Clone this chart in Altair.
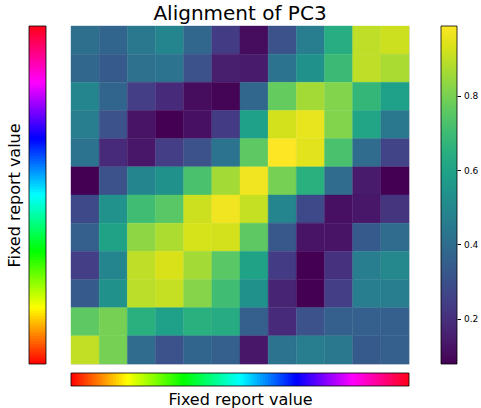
import altair as alt
import pandas as pd
import numpy as np

title_text = "Alignment of PC3"
bar_title = "Fixed report value"

# 12 x 12 alignment values, row 0 = top row
rows = [
    [0.406, 0.369, 0.442, 0.488, 0.378, 0.233, 0.105, 0.306, 0.460, 0.642, 0.897, 0.915],
    [0.378, 0.333, 0.415, 0.424, 0.306, 0.151, 0.142, 0.424, 0.533, 0.697, 0.897, 0.870],
    [0.488, 0.369, 0.242, 0.187, 0.105, 0.087, 0.378, 0.770, 0.861, 0.815, 0.679, 0.588],
    [0.460, 0.306, 0.124, 0.078, 0.114, 0.233, 0.588, 0.924, 0.956, 0.815, 0.606, 0.442],
    [0.424, 0.187, 0.133, 0.242, 0.306, 0.424, 0.761, 0.988, 0.947, 0.724, 0.397, 0.260],
    [0.078, 0.306, 0.488, 0.533, 0.724, 0.861, 0.970, 0.797, 0.651, 0.397, 0.142, 0.078],
    [0.278, 0.540, 0.706, 0.751, 0.915, 0.970, 0.906, 0.488, 0.278, 0.114, 0.133, 0.215],
    [0.351, 0.597, 0.833, 0.874, 0.929, 0.924, 0.761, 0.324, 0.124, 0.124, 0.333, 0.397],
    [0.242, 0.488, 0.897, 0.933, 0.861, 0.751, 0.597, 0.233, 0.078, 0.205, 0.460, 0.497],
    [0.333, 0.533, 0.892, 0.906, 0.820, 0.706, 0.533, 0.169, 0.078, 0.242, 0.460, 0.460],
    [0.761, 0.797, 0.651, 0.588, 0.651, 0.633, 0.351, 0.187, 0.306, 0.351, 0.351, 0.351],
    [0.902, 0.797, 0.397, 0.306, 0.369, 0.351, 0.133, 0.424, 0.460, 0.442, 0.333, 0.351],
]
cbar_ticks = [0.2, 0.4, 0.6, 0.8]
hsv_colors = ["#ff0000", "#ffff00", "#00ff00", "#00ffff", "#0000ff", "#ff00ff", "#ff0018"]
viridis_colors = ["#440154", "#48186a", "#472d7b", "#424086", "#3b528b", "#33638d",
                  "#2c728e", "#26828e", "#21918c", "#1fa088", "#28ae80", "#3fbc73",
                  "#5ec962", "#84d44b", "#addc30", "#d8e219", "#fde725"]

records = []
for r, row in enumerate(rows):
    for c, v in enumerate(row):
        records.append({"row": r, "col": c, "v": v})
heat_df = pd.DataFrame(records)

vmin = min(min(r) for r in rows)
vmax = max(max(r) for r in rows)

N = 120
# viridis colorbar samples
edges = np.linspace(vmin, vmax, N + 1)
vir_df = pd.DataFrame({
    "lo": edges[:-1],
    "hi": np.minimum(edges[1:] + (vmax - vmin) / N * 0.6, vmax),
    "v": (edges[:-1] + edges[1:]) / 2,
})
# hsv colorbar samples
e2 = np.linspace(0, 1, N + 1)
hsv_df = pd.DataFrame({
    "lo": e2[:-1],
    "hi": np.minimum(e2[1:] + 0.6 / N, 1),
    "h": (e2[:-1] + e2[1:]) / 2,
})

W = 338
H = 338
font = "DejaVu Sans"

vir_domain = [float(d) for d in np.linspace(vmin, vmax, len(viridis_colors))]
vir_scale = alt.Scale(domain=vir_domain, range=viridis_colors, interpolate="rgb")
hsv_scale = alt.Scale(domain=[float(d) for d in np.linspace(0, 1, 7)], range=hsv_colors,
                      interpolate="rgb")

heat = alt.Chart(heat_df).mark_rect(strokeWidth=0.4).encode(
    x=alt.X("col:O", axis=None, scale=alt.Scale(paddingInner=0, paddingOuter=0)),
    y=alt.Y("row:O", axis=None, scale=alt.Scale(paddingInner=0, paddingOuter=0)),
    color=alt.Color("v:Q", scale=vir_scale, legend=None),
    stroke=alt.Stroke("v:Q", scale=vir_scale, legend=None),
)

vir_bar = alt.Chart(vir_df).mark_rect().encode(
    x=alt.value(370), x2=alt.value(386),
    y=alt.Y("lo:Q", scale=alt.Scale(domain=[vmin, vmax], nice=False, zero=False),
            axis=alt.Axis(orient="right", offset=48, values=cbar_ticks, format=".1f",
                          domain=False, grid=False, tickSize=3.5, tickColor="#000",
                          labelFontSize=9, labelFont=font, labelColor="#000",
                          labelPadding=3, title=None)),
    y2="hi",
    color=alt.Color("v:Q", scale=vir_scale, legend=None),
)
vir_frame = alt.Chart(vir_df.head(1)).mark_rect(fill=None, stroke="#000", strokeWidth=0.8).encode(
    x=alt.value(370), x2=alt.value(386), y=alt.value(0), y2=alt.value(H),
)

left_bar = alt.Chart(hsv_df).mark_rect().encode(
    x=alt.value(-42), x2=alt.value(-25),
    y=alt.Y("lo:Q", scale=alt.Scale(domain=[0, 1], nice=False),
            axis=alt.Axis(orient="left", offset=42, labels=False, ticks=False, domain=False,
                          grid=False, title=bar_title, titleFont=font, titleFontSize=16,
                          titleFontWeight="normal", titleColor="#000", titlePadding=7)),
    y2="hi",
    color=alt.Color("h:Q", scale=hsv_scale, legend=None),
)
left_frame = alt.Chart(hsv_df.head(1)).mark_rect(fill=None, stroke="#000", strokeWidth=0.8).encode(
    x=alt.value(-42), x2=alt.value(-25), y=alt.value(0), y2=alt.value(H),
)

bottom_bar = alt.Chart(hsv_df).mark_rect().encode(
    y=alt.value(347), y2=alt.value(360),
    x=alt.X("lo:Q", scale=alt.Scale(domain=[0, 1], nice=False),
            axis=alt.Axis(orient="bottom", offset=22, labels=False, ticks=False, domain=False,
                          grid=False, title=bar_title, titleFont=font, titleFontSize=16,
                          titleFontWeight="normal", titleColor="#000", titlePadding=5)),
    x2="hi",
    color=alt.Color("h:Q", scale=hsv_scale, legend=None),
)
bottom_frame = alt.Chart(hsv_df.head(1)).mark_rect(fill=None, stroke="#000", strokeWidth=0.8).encode(
    x=alt.value(0), x2=alt.value(W), y=alt.value(347), y2=alt.value(360),
)

chart = alt.layer(
    heat, vir_bar, vir_frame, left_bar, left_frame, bottom_bar, bottom_frame
).resolve_scale(
    x="independent", y="independent", color="independent", stroke="independent"
).resolve_axis(
    x="independent", y="independent"
).properties(
    width=W, height=H,
    title=alt.TitleParams(title_text, font=font, fontSize=20, fontWeight="normal",
                          color="#000", anchor="middle", offset=2),
    autosize=alt.AutoSizeParams(type="none"),
    padding={"left": 71, "top": 26, "right": 72, "bottom": 44},
).configure_view(
    stroke="#000", strokeWidth=1
).configure(background="white")

chart.save("out.html", embed_options={"renderer": "svg", "actions": False})
